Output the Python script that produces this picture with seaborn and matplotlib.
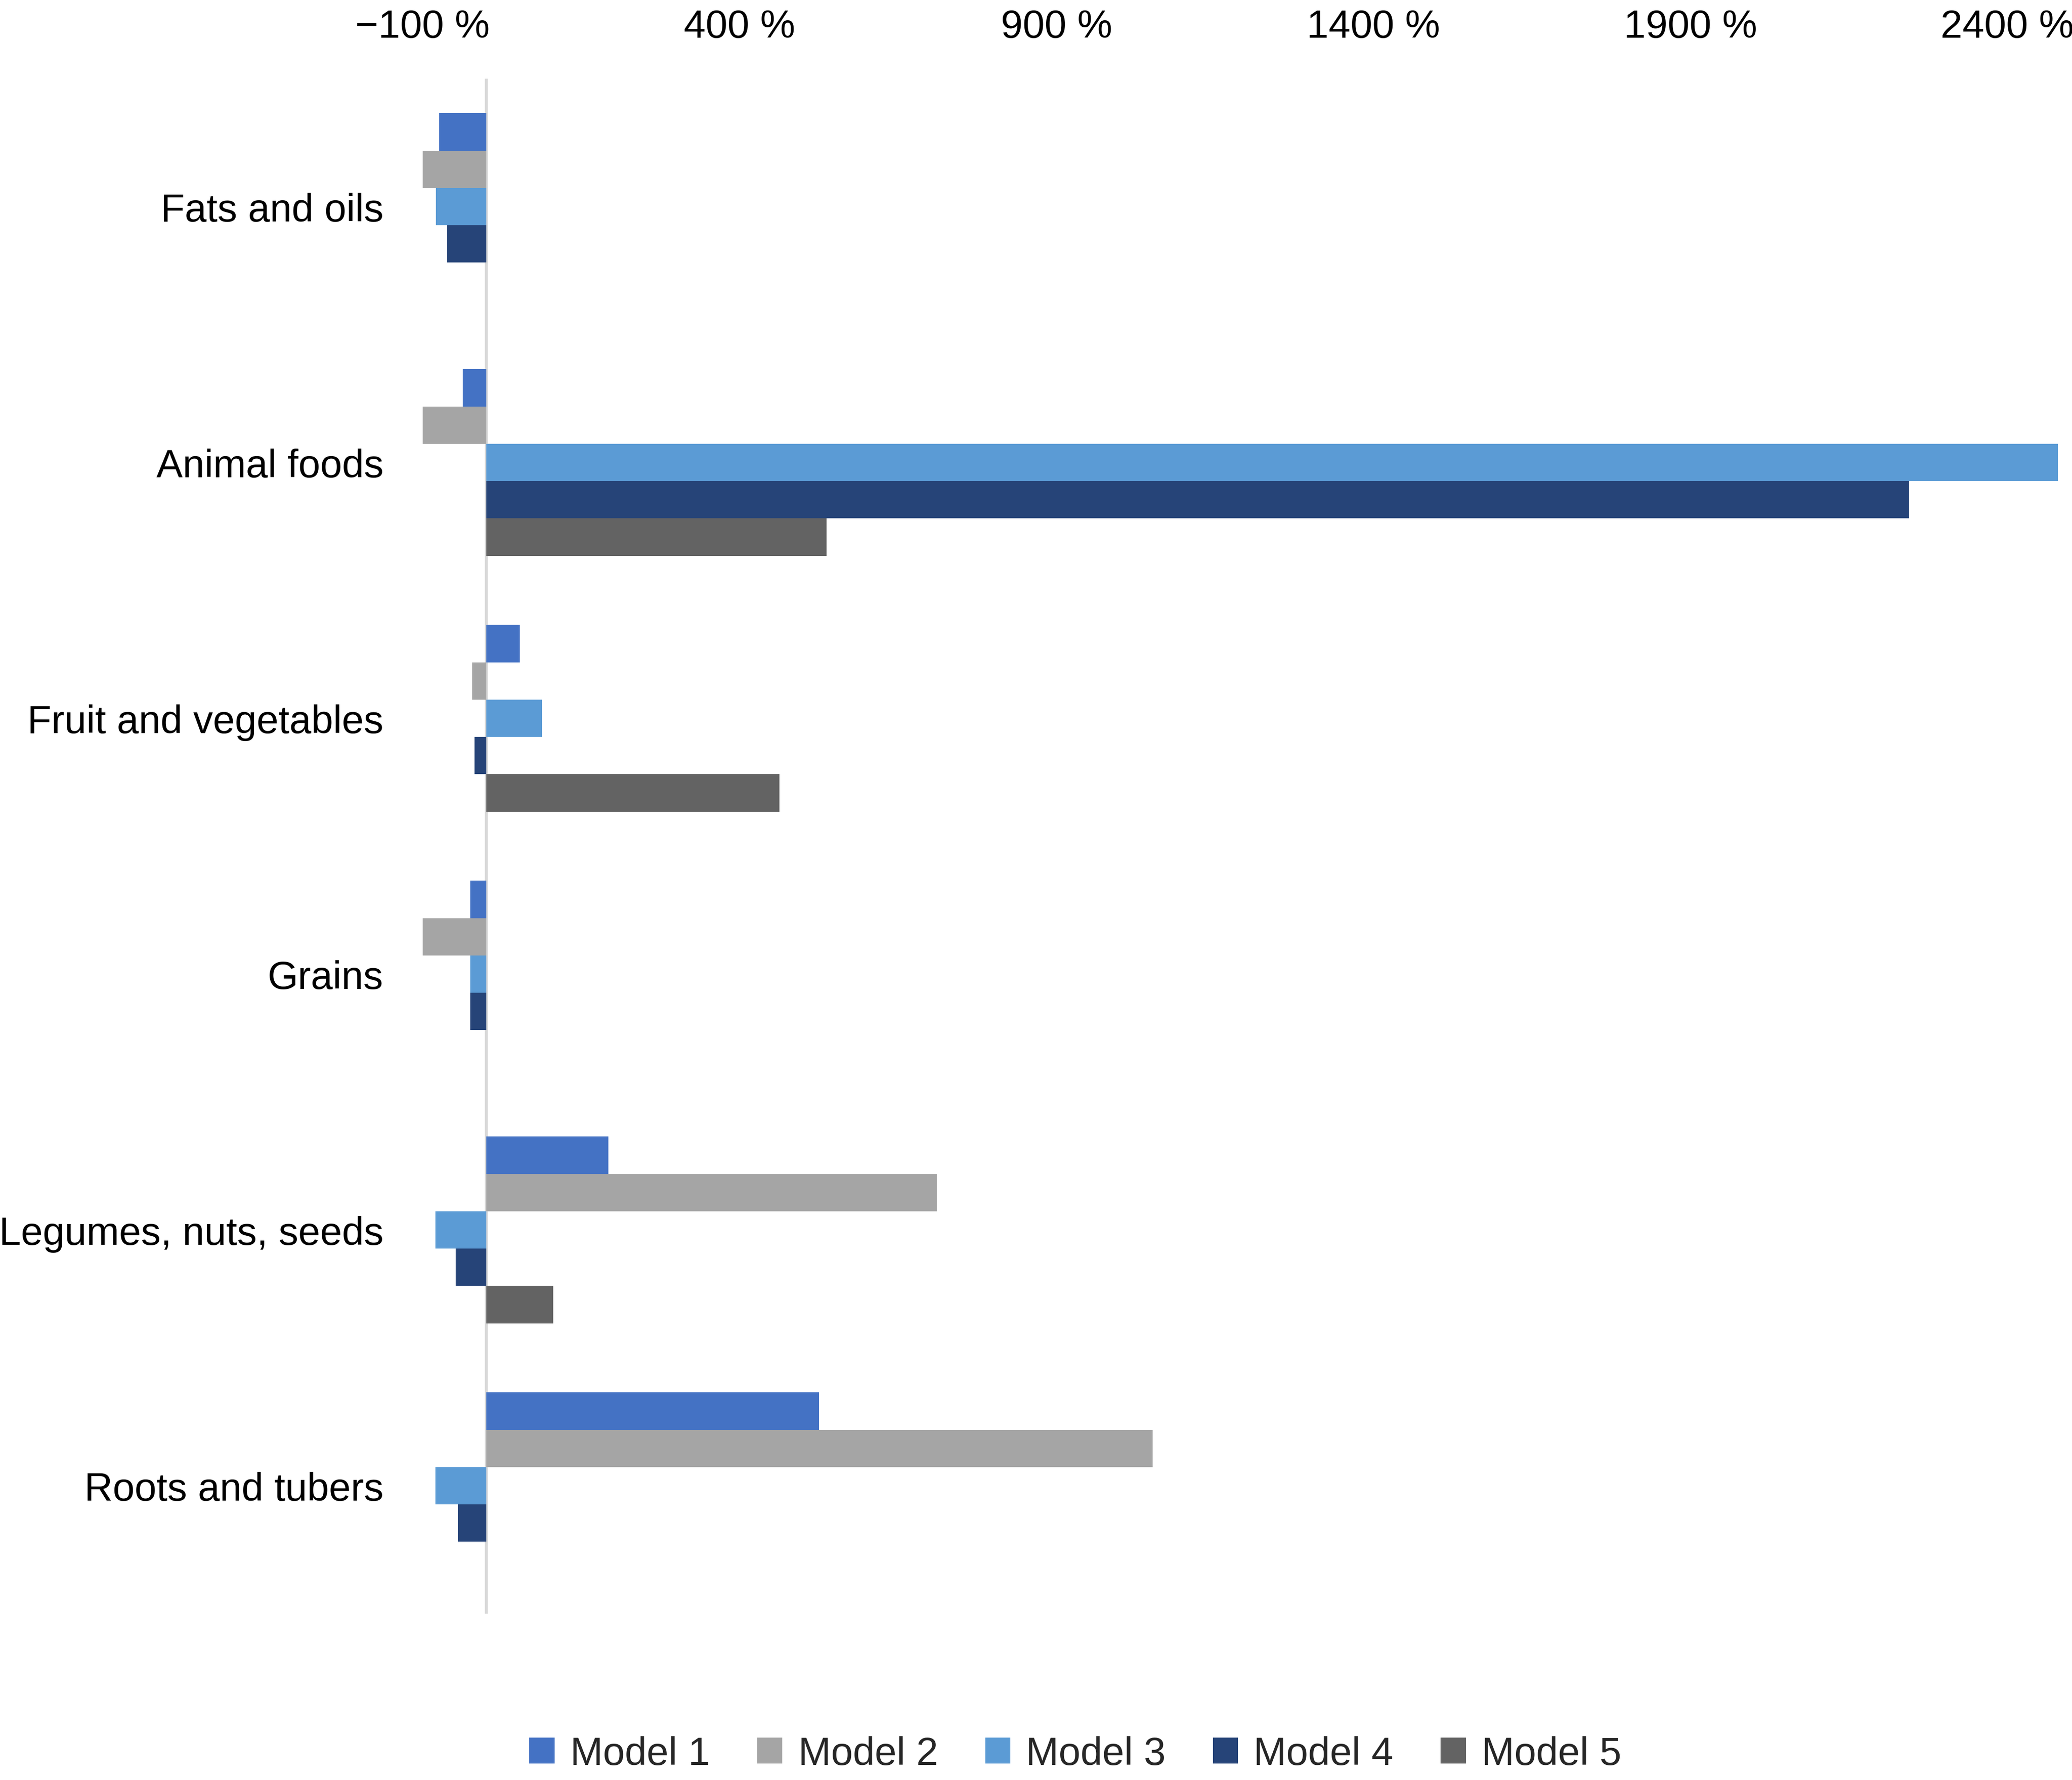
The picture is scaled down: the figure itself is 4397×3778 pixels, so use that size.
import numpy as np
import pandas as pd
import seaborn as sns
import matplotlib.pyplot as plt
from matplotlib.ticker import FuncFormatter

categories = ["Fats and oils", "Animal foods", "Fruit and vegetables",
              "Grains", "Legumes, nuts, seeds", "Roots and tubers"]
models = ["Model 1", "Model 2", "Model 3", "Model 4", "Model 5"]

# percent change per category
model_1 = [-74, -37, 53, -25, 193, 525]
model_2 = [-100, -100, -22, -100, 711, 1052]
model_3 = [-79, 2480, 88, -25, -80, -80]
model_4 = [-61, 2245, -18, -25, -48, -44]
model_5 = [0, 537, 463, 0, 106, 0]

x_ticks = [-100, 400, 900, 1400, 1900, 2400]
colors = ["#4472C4", "#A5A5A5", "#5B9BD5", "#264478", "#636363"]

df = pd.DataFrame({
    "category": categories * 5,
    "model": np.repeat(models, len(categories)),
    "value": model_1 + model_2 + model_3 + model_4 + model_5,
})

sns.set_style("white")
plt.rcParams["font.family"] = ["Liberation Sans", "DejaVu Sans"]
plt.rcParams["font.size"] = 20

fig = plt.figure(figsize=(4397 / 300, 3779 / 300), dpi=300)
ax = fig.add_axes([897 / 4397, 1 - 3426 / 3779, (4394 - 897) / 4397, (3426 - 168) / 3779])

sns.barplot(data=df, x="value", y="category", hue="model", order=categories,
            hue_order=models, palette=colors, orient="h", width=0.73,
            errorbar=None, linewidth=0, saturation=1, ax=ax)

ax.set_xlim(-100, 2500)
ax.set_ylim(5.5, -0.5)
ax.axvline(0, color="#D9D9D9", lw=1.5, zorder=0)
for s in ax.spines.values():
    s.set_visible(False)

ax.xaxis.tick_top()
ax.set_xticks(x_ticks)
ax.xaxis.set_major_formatter(FuncFormatter(lambda v, p: f"{int(v)} %".replace("-", "\u2212")))
ax.tick_params(axis="x", length=0, pad=17, labelsize=20, labelcolor="black")
ax.tick_params(axis="y", length=0, pad=20, labelsize=20, labelcolor="black")
ax.set_xlabel("")
ax.set_ylabel("")
ax.grid(False)

handles, labels = ax.get_legend_handles_labels()
ax.get_legend().remove()
fig.legend(handles, labels, loc="center", bbox_to_anchor=(0.519, 55 / 3779), ncol=5,
           frameon=False, fontsize=20, handlelength=0.64, handleheight=0.64,
           handletextpad=0.4, columnspacing=1.2)

fig.savefig("out.png", dpi=300)
